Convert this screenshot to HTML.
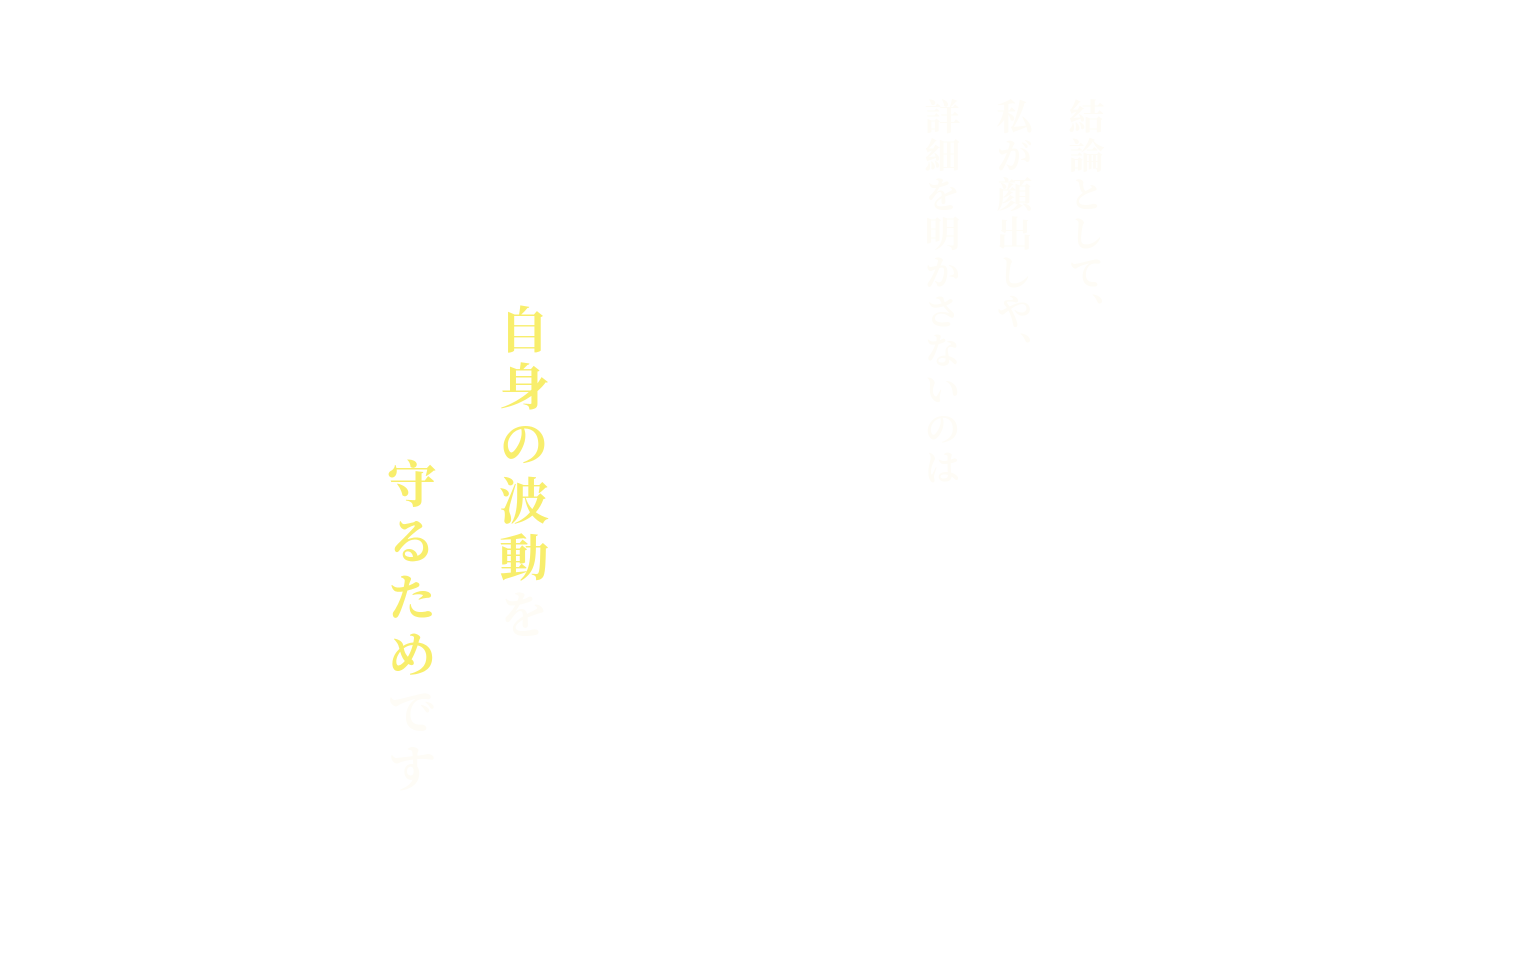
<!DOCTYPE html>
<html><head><meta charset="utf-8"><style>
body{margin:0;width:1536px;height:974px;background:#fff;position:relative;overflow:hidden;font-family:"Liberation Serif","Noto Serif CJK SC",serif;}
.c{position:absolute;writing-mode:vertical-rl;white-space:nowrap;font-weight:bold;}
.f{font-size:36px;letter-spacing:3px;color:#fefcf6;line-height:1;}
.y{font-size:50px;letter-spacing:7px;color:#f8ee6c;line-height:1;}
.y span{color:#fefcf6;}
</style></head><body>
<div class="c f" style="left:1066px;top:98px;">結論として、</div>
<div class="c f" style="left:994px;top:98px;">私が顔出しや、</div>
<div class="c f" style="left:922px;top:98px;">詳細を明かさないのは</div>
<div class="c y" style="left:495px;top:304px;">自身の波動<span>を</span></div>
<div class="c y" style="left:383px;top:458px;">守るため<span>です</span></div>
</body></html>
